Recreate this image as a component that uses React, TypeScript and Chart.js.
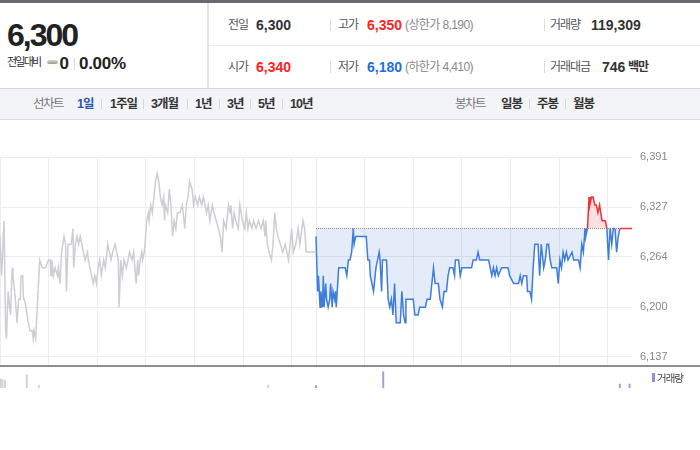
import React, { useEffect, useRef } from "react";
import { Chart, registerables } from "chart.js";

Chart.register(...registerables);

// ---- data ----
const BASE_PRICE = 6300; // 전일 종가
// previous session: [minute from 09:00, price]
const prevSeries: [number, number][] = [
  [0, 6290], [2, 6240], [5, 6310], [7, 6170], [8, 6160], [10, 6220], [13, 6190], [15, 6250], [16, 6240],
  [19, 6210], [21, 6180], [23, 6210], [25, 6210], [26, 6240], [28, 6240], [29, 6210], [30, 6210], [32, 6200],
  [35, 6180], [37, 6170], [40, 6170], [41, 6160], [42, 6170], [44, 6160], [45, 6180], [47, 6220], [49, 6260],
  [52, 6250], [56, 6250], [60, 6260], [62, 6260], [63, 6240], [64, 6260], [66, 6240], [68, 6250], [71, 6240],
  [72, 6250], [74, 6230], [76, 6270], [79, 6290], [81, 6280], [82, 6220], [84, 6280], [88, 6280], [90, 6300],
  [91, 6250], [93, 6280], [95, 6290], [97, 6280], [99, 6290], [101, 6280], [103, 6270], [105, 6260], [108, 6270],
  [109, 6260], [111, 6250], [113, 6240], [115, 6230], [117, 6240], [119, 6230], [121, 6250], [123, 6260],
  [125, 6240], [128, 6260], [130, 6250], [132, 6270], [133, 6280], [135, 6270], [137, 6260], [139, 6270],
  [142, 6280], [144, 6270], [146, 6260], [147, 6200], [149, 6260], [151, 6240], [153, 6260], [156, 6250],
  [158, 6260], [160, 6270], [163, 6260], [165, 6270], [168, 6230], [170, 6260], [171, 6240], [173, 6260],
  [175, 6270], [176, 6260], [178, 6270], [179, 6280], [181, 6310], [183, 6320], [184, 6310], [186, 6330],
  [188, 6320], [190, 6340], [192, 6360], [194, 6370], [196, 6360], [198, 6340], [200, 6330], [202, 6340],
  [203, 6310], [204, 6330], [207, 6320], [209, 6350], [211, 6330], [213, 6290], [215, 6310], [217, 6300],
  [219, 6320], [222, 6320], [225, 6330], [228, 6300], [230, 6330], [232, 6340], [234, 6360], [237, 6350],
  [239, 6330], [241, 6340], [244, 6330], [246, 6340], [249, 6330], [251, 6340], [253, 6330], [255, 6320],
  [257, 6330], [259, 6310], [262, 6330], [264, 6320], [267, 6310], [272, 6290], [274, 6270], [276, 6310],
  [279, 6300], [282, 6330], [284, 6320], [285, 6330], [287, 6300], [289, 6320], [291, 6310], [294, 6300],
  [296, 6330], [299, 6310], [302, 6300], [304, 6320], [306, 6300], [308, 6310], [311, 6300], [313, 6310],
  [316, 6300], [319, 6310], [322, 6300], [325, 6310], [327, 6290], [328, 6310], [330, 6280], [332, 6270],
  [335, 6260], [337, 6280], [339, 6320], [341, 6300], [343, 6290], [346, 6280], [349, 6270], [352, 6280],
  [354, 6270], [356, 6260], [360, 6300], [362, 6270], [365, 6280], [368, 6300], [370, 6280], [374, 6310],
  [376, 6300], [378, 6270], [389, 6270],
];
// today's session (minutes continue from 390)
const todaySeries: [number, number][] = [
  [390, 6290], [392, 6220], [393, 6240], [395, 6200], [396, 6220], [398, 6200], [399, 6240], [400, 6200],
  [402, 6230], [403, 6210], [405, 6200], [407, 6210], [408, 6230], [410, 6200], [411, 6220], [413, 6210],
  [414, 6220], [415, 6200], [418, 6250], [420, 6250], [426, 6250], [428, 6240], [430, 6260], [432, 6260],
  [434, 6270], [436, 6300], [437, 6280], [439, 6290], [452, 6290], [454, 6260], [456, 6260], [457, 6240],
  [459, 6230], [461, 6220], [462, 6230], [464, 6250], [466, 6260], [468, 6270], [469, 6260], [471, 6220],
  [472, 6260], [477, 6260], [479, 6210], [481, 6200], [483, 6210], [485, 6190], [487, 6230], [489, 6180],
  [494, 6180], [496, 6220], [498, 6190], [500, 6180], [501, 6210], [510, 6210], [512, 6190], [516, 6190],
  [518, 6200], [525, 6200], [527, 6210], [531, 6210], [533, 6230], [535, 6250], [537, 6230], [541, 6230],
  [543, 6210], [546, 6200], [548, 6220], [551, 6220], [553, 6240], [555, 6250], [559, 6250], [561, 6240],
  [562, 6260], [566, 6260], [568, 6240], [570, 6250], [582, 6250], [584, 6260], [588, 6260], [590, 6270],
  [592, 6260], [603, 6260], [605, 6250], [607, 6240], [609, 6250], [611, 6240], [613, 6250], [615, 6240],
  [619, 6250], [627, 6250], [629, 6240], [634, 6230], [640, 6230], [642, 6240], [644, 6230], [646, 6240],
  [650, 6240], [651, 6220], [654, 6220], [656, 6210], [658, 6250], [660, 6280], [664, 6280], [666, 6240],
  [668, 6280], [671, 6250], [673, 6260], [675, 6280], [677, 6280], [679, 6260], [681, 6250], [687, 6250],
  [689, 6230], [691, 6260], [693, 6250], [695, 6270], [697, 6260], [699, 6270], [701, 6260], [706, 6270],
  [708, 6260], [714, 6260], [716, 6250], [718, 6280], [720, 6270], [722, 6300], [723, 6290], [725, 6300],
  [727, 6340], [728, 6330], [730, 6340], [732, 6340], [734, 6330], [736, 6330], [738, 6320], [740, 6330],
  [743, 6310], [745, 6310], [747, 6310], [749, 6300], [751, 6260], [753, 6300], [755, 6280], [757, 6300],
  [759, 6300], [761, 6270], [763, 6290], [765, 6300], [780, 6300],
];
const priceTicks = [6137, 6200, 6264, 6327, 6391];
const hourTicks = [0, 60, 120, 180, 240, 300, 360, 390, 450, 510, 570, 630, 690, 750];
const prevVolumes: [number, number][] = [[0, 8900], [1, 8300], [3, 8000], [6, 7600], [33, 12700], [48, 2600], [331, 2900]];
const todayVolumes: [number, number][] = [[390, 2200], [473, 15500], [765, 3800], [777, 3800]];

const FONT = "'Liberation Sans', 'Noto Sans CJK KR', Arial, sans-serif";
const RED = "#f0303a";
const BLUE = "#3d7ddc";

const T = (x: number, cy: number, s: string, size: number, st: React.CSSProperties = {}) => (
  <span
    style={{
      position: "absolute",
      left: x,
      top: cy - size / 2,
      fontSize: size,
      lineHeight: 1,
      whiteSpace: "nowrap",
      ...st,
    }}
  >
    {s}
  </span>
);
const Sep = (x: number, top: number, h: number, c = "#dddddd") => (
  <div style={{ position: "absolute", left: x, top, width: 1, height: h, background: c }} />
);

export default function App() {
  const priceRef = useRef<HTMLCanvasElement>(null);
  const volRef = useRef<HTMLCanvasElement>(null);

  useEffect(() => {
    document.body.style.margin = "0";
    const pc = new Chart(priceRef.current!, {
      type: "line",
      data: {
        datasets: [
          {
            label: "today",
            data: todaySeries.map(([x, y]) => ({ x, y })),
            borderColor: BLUE,
            borderWidth: 1.5,
            pointRadius: 0,
            tension: 0,
            order: 0,
            fill: { target: { value: BASE_PRICE }, above: "rgba(240,60,70,0.16)", below: "rgba(70,120,210,0.14)" },
            segment: {
              borderColor: (ctx: any) => {
                const a = ctx.p0.parsed.y;
                const b = ctx.p1.parsed.y;
                return a > BASE_PRICE || b > BASE_PRICE || (a === BASE_PRICE && b === BASE_PRICE) ? RED : BLUE;
              },
            },
          } as any,
          {
            label: "base",
            data: [
              { x: 390, y: BASE_PRICE },
              { x: 780, y: BASE_PRICE },
            ],
            borderColor: "#8a8a8a",
            borderWidth: 1,
            borderDash: [1, 1],
            pointRadius: 0,
            order: 1,
          },
          {
            label: "prev",
            data: prevSeries.map(([x, y]) => ({ x, y })),
            borderColor: "#cdced3",
            borderWidth: 1.5,
            pointRadius: 0,
            tension: 0,
            order: 2,
          },
        ],
      },
      options: {
        animation: false,
        responsive: false,
        events: [],
        layout: { padding: { top: 37, left: 0, right: 0, bottom: 0 } },
        plugins: {
          legend: { display: false },
          tooltip: { enabled: false },
          filler: { drawTime: "beforeDatasetsDraw" },
        } as any,
        scales: {
          x: {
            type: "linear",
            min: 0,
            max: 780,
            afterBuildTicks: (s: any) => {
              s.ticks = hourTicks.map((v) => ({ value: v }));
            },
            ticks: { display: false },
            grid: { color: "#ececec", drawTicks: false },
            border: { display: false },
            afterFit: (s: any) => {
              s.height = 0;
            },
          },
          y: {
            position: "right",
            min: 6124.6,
            max: 6391,
            afterBuildTicks: (s: any) => {
              s.ticks = priceTicks.map((v) => ({ value: v }));
            },
            ticks: {
              color: "#888888",
              padding: 8,
              font: { family: FONT, size: 11 },
              callback: (v: any) => Number(v).toLocaleString("en-US"),
            },
            grid: { color: "#ececec", drawTicks: false },
            border: { display: false },
            afterFit: (s: any) => {
              s.width = 68;
            },
          },
        },
      },
    });

    const vc = new Chart(volRef.current!, {
      type: "bar",
      data: {
        datasets: [
          {
            data: prevVolumes.map(([x, y]) => ({ x, y })),
            backgroundColor: "#d3d4d9",
            barThickness: 1.3,
            grouped: false,
          } as any,
          {
            data: todayVolumes.map(([x, y]) => ({ x, y })),
            backgroundColor: "#a898dc",
            barThickness: 1.3,
            grouped: false,
          } as any,
        ],
      },
      options: {
        animation: false,
        responsive: false,
        events: [],
        layout: { padding: { top: 0, left: 0, right: 68, bottom: 0 } },
        plugins: { legend: { display: false }, tooltip: { enabled: false } },
        scales: {
          x: { type: "linear", min: 0, max: 780, display: false, offset: false },
          y: { min: 0, max: 20000, display: false },
        },
      },
    });

    return () => {
      pc.destroy();
      vc.destroy();
    };
  }, []);

  const lab: React.CSSProperties = { color: "#555", letterSpacing: -1 };
  const val: React.CSSProperties = { fontWeight: "bold", color: "#333" };
  const tab: React.CSSProperties = { fontWeight: "bold", color: "#333", letterSpacing: -1 };

  return (
    <div
      style={{
        position: "absolute",
        left: 0,
        top: 0,
        width: 700,
        height: 450,
        background: "#fff",
        overflow: "hidden",
        fontFamily: FONT,
      }}
    >
      {/* top bar */}
      <div style={{ position: "absolute", left: 0, top: 0, width: 700, height: 3, background: "#676b72" }} />
      {/* left box */}
      {T(7, 35, "6,300", 32, { fontWeight: "bold", color: "#222", letterSpacing: -2 })}
      {T(7, 62.5, "전일대비", 11, { color: "#333", letterSpacing: -1.8 })}
      <div
        style={{
          position: "absolute",
          left: 47,
          top: 60,
          width: 11,
          height: 4,
          borderRadius: 2,
          background: "linear-gradient(#d6d6d6,#9c9c9c)",
        }}
      />
      {T(59.5, 63.5, "0", 17, { fontWeight: "bold", color: "#222" })}
      {Sep(74, 58, 12)}
      {T(79, 63.5, "0.00%", 17, { fontWeight: "bold", color: "#222", letterSpacing: -0.3 })}
      <div style={{ position: "absolute", left: 207, top: 3, width: 2, height: 85, background: "#e4e4e4" }} />
      <div style={{ position: "absolute", left: 209, top: 45, width: 491, height: 1, background: "#ececec" }} />

      {/* row 1 */}
      {T(228, 25, "전일", 12, lab)}
      {T(256, 25, "6,300", 14, val)}
      {Sep(330, 19, 12)}
      {T(338, 25, "고가", 12, lab)}
      {T(367, 25, "6,350", 14, { ...val, color: "#f22" })}
      {T(405, 25, "(상한가 8,190)", 12, { color: "#888", letterSpacing: -0.6 })}
      {Sep(544, 19, 12)}
      {T(550, 25, "거래량", 12, lab)}
      {T(591, 25, "119,309", 14, val)}

      {/* row 2 */}
      {T(228, 67, "시가", 12, lab)}
      {T(256, 67, "6,340", 14, { ...val, color: "#f22" })}
      {Sep(330, 61, 12)}
      {T(338, 67, "저가", 12, lab)}
      {T(367, 67, "6,180", 14, { ...val, color: "#1e6fe0" })}
      {T(405, 67, "(하한가 4,410)", 12, { color: "#888", letterSpacing: -0.6 })}
      {Sep(544, 61, 12)}
      {T(550, 67, "거래대금", 12, lab)}
      {T(602, 67, "746", 14, val)}
      {T(628, 67, "백만", 12, { ...val, letterSpacing: -1 })}

      {/* tab bar */}
      <div
        style={{
          position: "absolute",
          left: 0,
          top: 88,
          width: 700,
          height: 30,
          background: "#f3f4f8",
          borderTop: "1px solid #d4d6da",
          borderBottom: "1px solid #dadcdf",
        }}
      />
      {T(33, 104, "선차트", 12.5, { color: "#777", letterSpacing: -1.5 })}
      {T(77, 104, "1일", 12.5, { ...tab, color: "#2a52b5" })}
      {Sep(101, 99, 10, "#d5d5d5")}
      {T(110, 104, "1주일", 12.5, tab)}
      {Sep(143, 99, 10, "#d5d5d5")}
      {T(151, 104, "3개월", 12.5, tab)}
      {Sep(187, 99, 10, "#d5d5d5")}
      {T(195, 104, "1년", 12.5, tab)}
      {Sep(219, 99, 10, "#d5d5d5")}
      {T(227, 104, "3년", 12.5, tab)}
      {Sep(250, 99, 10, "#d5d5d5")}
      {T(258, 104, "5년", 12.5, tab)}
      {Sep(282, 99, 10, "#d5d5d5")}
      {T(290, 104, "10년", 12.5, tab)}
      {T(455, 104, "봉차트", 12.5, { color: "#777", letterSpacing: -1.5 })}
      {T(501, 104, "일봉", 12.5, tab)}
      {Sep(529, 99, 10, "#d5d5d5")}
      {T(537, 104, "주봉", 12.5, tab)}
      {Sep(565, 99, 10, "#d5d5d5")}
      {T(573, 104, "월봉", 12.5, tab)}

      {/* charts */}
      <canvas
        ref={priceRef}
        width={700}
        height={261}
        style={{ position: "absolute", left: 0, top: 120, width: 700, height: 261, display: "block" }}
      />
      <div style={{ position: "absolute", left: 0, top: 365, width: 700, height: 2, background: "#8e8e8e" }} />
      <canvas
        ref={volRef}
        width={700}
        height={21}
        style={{ position: "absolute", left: 0, top: 367, width: 700, height: 21, display: "block" }}
      />
      <div style={{ position: "absolute", left: 652, top: 373, width: 2.5, height: 9, background: "#9b8bd4" }} />
      {T(657, 378, "거래량", 10.5, { color: "#444", letterSpacing: -1 })}
    </div>
  );
}
